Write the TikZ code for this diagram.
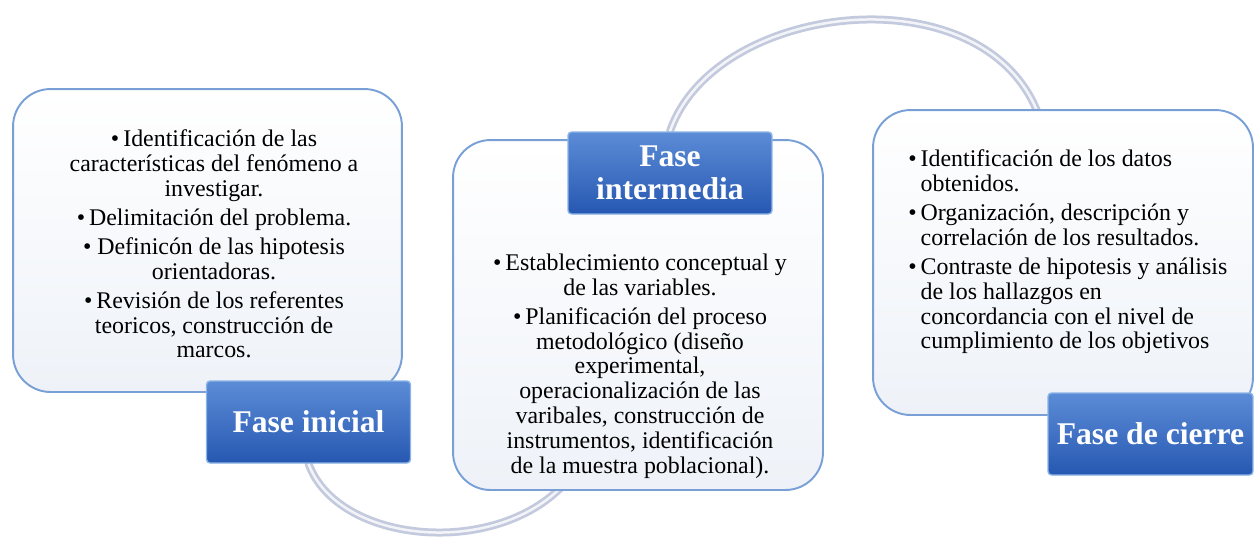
\documentclass[tikz,border=0pt]{standalone}
\usepackage{fontspec}
\setmainfont{Liberation Serif}
\usetikzlibrary{backgrounds}

\definecolor{boxline}{RGB}{120,160,215}
\definecolor{boxlow}{RGB}{238,242,248}
\definecolor{phasetop}{RGB}{92,140,214}
\definecolor{phasebot}{RGB}{38,88,178}
\definecolor{phaserim}{RGB}{140,180,230}
\definecolor{tubegray}{RGB}{196,202,222}

\begin{document}
\begin{tikzpicture}[x=0.02cm, y=-0.02cm,
	stagebox/.style={draw=boxline, line width=1.1pt, rounded corners=0.75cm,
		top color=white, bottom color=boxlow, inner sep=0pt},
	phase/.style={draw=phaserim, line width=0.8pt, rounded corners=2pt,
		top color=phasetop, bottom color=phasebot, text=white,
		font=\fontsize{18}{18.5}\selectfont\bfseries, align=center,
		minimum width=4.08cm, minimum height=1.64cm, inner sep=0pt},
	items/.style={font=\fontsize{13.6}{14.1}\selectfont, inner sep=0pt},
	tube/.style={draw=tubegray, line width=0.16cm, line cap=round},
	shine/.style={draw=white, line width=0.05cm, line cap=round, opacity=0.8}]
	\useasboundingbox (0,0) rectangle (1255,539);

	% the three stages
	\node (ibox) [stagebox, minimum width=7.78cm, minimum height=6.06cm] at (207.5,240.5) {};
	\node (mbox) [stagebox, minimum width=7.4cm, minimum height=7cm] at (638,315) {};
	\node (cbox) [stagebox, minimum width=7.6cm, minimum height=6.1cm] at (1063,262.5) {};

	\node (itext) [items, align=center] at (214,244) {%
		•\,Identificación de las\\ características del fenómeno a\\ investigar.\\[2.5pt]
		•\,Delimitación del problema.\\[2.5pt]
		• Definicón de las hipotesis\\ orientadoras.\\[2.5pt]
		•\,Revisión de los referentes\\ teoricos, construcción de\\ marcos.};
	\node (mtext) [items, align=center] at (640,366) {%
		•\,Establecimiento conceptual y\\ de las variables.\\[2.5pt]
		•\,Planificación del proceso\\ metodológico (diseño\\ experimental,\\
		operacionalización de las\\ varibales, construcción de\\
		instrumentos, identificación\\ de la muestra poblacional).};
	\node (ctext) [items, align=left, anchor=west] at (908,252) {%
		•\,Identificación de los datos\\ \hphantom{•\,}obtenidos.\\[2.5pt]
		•\,Organización, descripción y\\ \hphantom{•\,}correlación de los resultados.\\[2.5pt]
		•\,Contraste de hipotesis y análisis\\ \hphantom{•\,}de los hallazgos en\\
		\hphantom{•\,}concordancia con el nivel de\\ \hphantom{•\,}cumplimiento de los objetivos};

	% phase labels
	\node (fini) [phase] at (308.5,422) {Fase inicial};
	\node (fint) [phase] at (670,173) {Fase\\ intermedia};
	\node (fcie) [phase, minimum width=4.1cm] at (1150.5,434) {Fase de cierre};

	% links behind the boxes
	\begin{scope}[on background layer]
		\draw [tube] (fini.south) .. controls (340,550) and (520,560) .. ([shift={(-60,-25)}]mbox.south);
		\draw [shine] (fini.south) .. controls (340,550) and (520,560) .. ([shift={(-60,-25)}]mbox.south);
		\draw [tube] (fint.north) .. controls (715,0) and (990,-30) .. ([shift={(-23,10)}]cbox.north);
		\draw [shine] (fint.north) .. controls (715,0) and (990,-30) .. ([shift={(-23,10)}]cbox.north);
	\end{scope}
\end{tikzpicture}
\end{document}
